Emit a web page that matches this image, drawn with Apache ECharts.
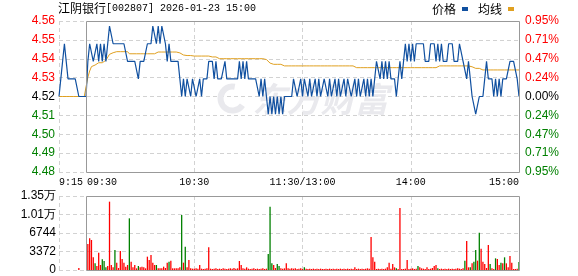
<!DOCTYPE html>
<html><head><meta charset="utf-8">
<script src="https://cdn.jsdelivr.net/npm/echarts@6/dist/echarts.min.js"></script>
<style>html,body{margin:0;padding:0;background:#fff}#c{width:578px;height:276px}</style>
</head><body><div id="c"></div>
<script>
const prevClose = 4.52;
// 9:15-9:29 call auction
const prePrice = [4.52,4.53,4.54,4.55,4.54,4.53,4.53,4.53,4.53,4.53,4.53,4.52,4.52,4.52,4.52];
const preAvg = [4.52,4.52,4.52,4.52,4.52,4.52,4.52,4.52,4.52,4.52,4.52,4.52,4.52,4.52,4.52];
const preVol = [0,0,0,0,0,0,0,0,0,0,0,364,0,0,0];
// 9:30-11:30, 13:01-15:00
const tradePrice = [
4.52,4.54,4.55,4.55,4.54,4.54,4.55,4.54,4.55,4.54,
4.55,4.54,4.55,4.56,4.56,4.55,4.55,4.55,4.55,4.55,
4.55,4.55,4.55,4.54,4.54,4.54,4.54,4.54,4.54,4.53,
4.54,4.54,4.54,4.54,4.55,4.55,4.55,4.56,4.56,4.55,
4.56,4.55,4.56,4.56,4.55,4.54,4.55,4.54,4.54,4.54,
4.54,4.54,4.53,4.52,4.53,4.52,4.53,4.53,4.52,4.53,
4.53,4.52,4.52,4.53,4.52,4.53,4.53,4.53,4.54,4.54,
4.54,4.53,4.54,4.53,4.53,4.53,4.53,4.54,4.53,4.53,
4.53,4.53,4.53,4.53,4.53,4.54,4.53,4.54,4.53,4.54,
4.53,4.53,4.53,4.53,4.53,4.53,4.52,4.53,4.52,4.53,
4.52,4.51,4.52,4.51,4.52,4.51,4.52,4.51,4.52,4.51,
4.52,4.52,4.52,4.52,4.52,4.53,4.53,4.52,4.52,4.53,
4.52,4.53,4.53,4.52,4.53,4.52,4.52,4.53,4.52,4.53,
4.52,4.52,4.53,4.53,4.52,4.53,4.52,4.52,4.53,4.52,
4.53,4.52,4.52,4.53,4.52,4.53,4.53,4.52,4.52,4.53,
4.52,4.53,4.52,4.52,4.53,4.52,4.53,4.52,4.53,4.52,
4.53,4.54,4.54,4.53,4.54,4.53,4.54,4.53,4.54,4.53,
4.53,4.53,4.52,4.53,4.54,4.53,4.54,4.55,4.54,4.55,
4.54,4.55,4.54,4.55,4.55,4.55,4.55,4.55,4.54,4.54,
4.54,4.55,4.55,4.55,4.54,4.55,4.54,4.55,4.54,4.54,
4.54,4.55,4.55,4.55,4.54,4.54,4.54,4.55,4.55,4.54,
4.54,4.53,4.54,4.53,4.52,4.52,4.51,4.51,4.52,4.52,
4.52,4.53,4.54,4.53,4.53,4.53,4.52,4.53,4.52,4.53,
4.52,4.53,4.53,4.53,4.53,4.54,4.54,4.54,4.54,4.53,
4.52];
const tradeAvg = [
4.520,4.531,4.5345,4.537,4.5379,4.5379,4.538,4.5392,4.5392,4.5392,
4.5395,4.5406,4.5406,4.544,4.5449,4.5449,4.5452,4.5455,4.5455,4.5455,
4.5455,4.5455,4.5455,4.5455,4.5443,4.5443,4.5443,4.5443,4.5443,4.5443,
4.5443,4.5443,4.5443,4.5443,4.5443,4.5443,4.5443,4.5443,4.5443,4.5453,
4.5453,4.5453,4.5453,4.5453,4.5453,4.5453,4.5453,4.5453,4.5453,4.5453,
4.5453,4.5453,4.5448,4.5442,4.5436,4.5433,4.5433,4.5433,4.5433,4.543,
4.543,4.543,4.543,4.543,4.543,4.543,4.543,4.543,4.543,4.543,
4.5425,4.5425,4.5425,4.5415,4.5415,4.5415,4.5415,4.5415,4.5415,4.5415,
4.5415,4.5415,4.5415,4.5415,4.5415,4.5415,4.5415,4.5415,4.5415,4.5415,
4.5415,4.5415,4.5415,4.5415,4.5415,4.5415,4.5415,4.5415,4.5415,4.5415,
4.541,4.540,4.539,4.5383,4.5383,4.5383,4.5383,4.5383,4.5383,4.5383,
4.5374,4.5374,4.5374,4.5374,4.5374,4.5374,4.5374,4.5374,4.5374,4.5374,
4.5374,4.5374,4.5374,4.5374,4.5374,4.5374,4.5374,4.5374,4.5374,4.5374,
4.5374,4.5374,4.5374,4.5374,4.5374,4.5374,4.5374,4.5374,4.5374,4.5374,
4.5374,4.5374,4.5374,4.5374,4.5374,4.5374,4.5374,4.5374,4.5374,4.5374,
4.5364,4.5364,4.5364,4.5364,4.5364,4.5364,4.5364,4.5364,4.5364,4.5364,
4.5364,4.5364,4.5364,4.5364,4.5364,4.5364,4.5364,4.5364,4.5364,4.5364,
4.5364,4.5364,4.5364,4.5364,4.5364,4.5364,4.5364,4.5364,4.5364,4.5364,
4.5364,4.5364,4.5364,4.5364,4.5364,4.5364,4.5364,4.5364,4.5364,4.5364,
4.5364,4.5364,4.5364,4.5364,4.5364,4.5364,4.5374,4.5374,4.5374,4.5374,
4.5374,4.5374,4.5374,4.5374,4.5374,4.5374,4.5374,4.5374,4.5374,4.5374,
4.5374,4.5374,4.5374,4.5374,4.5369,4.5363,4.536,4.536,4.536,4.5351,
4.5351,4.5351,4.5351,4.5351,4.5351,4.5351,4.5351,4.5351,4.5351,4.5351,
4.5351,4.5351,4.5351,4.5351,4.5351,4.5351,4.5351,4.5351,4.5351,4.5351,
4.5351];
const tradeVol = [
0,4739,5772,5468,2309,1215,729,3160,911,1944,
1640,486,729,12456,911,486,3646,1337,365,3463,
2005,1337,608,911,9418,1519,486,911,304,729,
486,608,486,304,2430,1823,2734,1337,911,911,
304,304,304,608,365,1337,1519,1700,304,304,
304,304,486,10025,1337,4253,486,1823,304,243,
243,304,243,911,243,182,243,304,4131,243,
182,243,304,182,243,182,304,243,182,243,
304,243,365,243,304,1640,911,304,243,486,
243,182,243,304,182,243,182,243,304,182,
243,2916,11544,1215,911,365,1094,729,304,243,
304,1215,304,243,304,243,304,182,243,304,
182,486,243,182,243,182,243,182,243,182,
243,182,182,243,182,243,182,243,182,243,
182,243,182,243,182,243,182,243,182,486,
182,243,182,243,182,243,304,243,6015,2309,
1519,182,243,182,243,182,243,486,1337,243,
1094,486,304,182,11301,182,182,243,1823,182,
243,304,182,243,729,486,304,243,182,486,
182,243,365,729,911,304,182,243,182,243,
182,243,182,243,182,243,304,243,182,304,
1700,5286,486,486,1215,1519,3646,1700,6805,3888,
1519,1094,365,4557,1094,304,182,2126,2005,911,
1337,1215,2309,1215,486,2552,1337,182,182,243,
1458];
const greenMinutes = [5,9,10,11,16,24,29,39,46,53,55,101,102,103,106,107,121,172,184,195,210,213,215,216,218,224,227,230,232,240];
const priceTicks = ['4.48','4.49','4.50','4.51','4.52','4.53','4.54','4.55','4.56'];
const pctTicks = ['0.95%','0.71%','0.47%','0.24%','0.00%','0.24%','0.47%','0.71%','0.95%'];
const volTicks = ['0','3372','6744','1.01万','1.35万'];
const timeLabels = {0:'9:15',15:'09:30',75:'10:30',135:'11:30/13:00',195:'14:00',255:'15:00'};
const vLines = [0,75,135,195];

const categories = [];
function hm(t){return Math.floor(t/60)+':'+String(t%60).padStart(2,'0');}
for (let t=9*60+15;t<9*60+30;t++) categories.push(hm(t));
for (let t=9*60+30;t<=11*60+30;t++) categories.push(hm(t));
for (let t=13*60+1;t<=15*60;t++) categories.push(hm(t));

const toBp = p => (p - prevClose) / prevClose * 10000;
const priceAll = prePrice.concat(tradePrice).map(toBp);
const avgAll = preAvg.concat(tradeAvg).map(toBp);
const greenSet = new Set(greenMinutes.map(m => m + prePrice.length));
const volAll = preVol.concat(tradeVol).map((v,i) => ({value:v, itemStyle:{color: greenSet.has(i) ? '#008000' : '#ff0000'}}));

const RED='#ff0000', GREEN='#008000', DARK='#000';
const tickIdx = v => Math.round((Number(v) + 95) / 23.75);
const tickColor = v => { const n = Number(v); return n > 0.01 ? RED : (n < -0.01 ? GREEN : DARK); };
const lab = {fontSize:12, fontFamily:'"Liberation Sans", Arial, sans-serif'};
const dash = {color:'#d2d2d2', type:[4,3], width:1};
const mono = '"Liberation Mono", "DejaVu Sans Mono", monospace';

const chart = echarts.init(document.getElementById('c'));
const option = {
  animation:false,
  backgroundColor:'#fff',
  title:{text:'{c|江阴银行}{m|[002807] 2026-01-23 15:00}', left:58, top:2, padding:0,
    textStyle:{fontSize:12, fontWeight:'normal', rich:{c:{fontSize:12, fontWeight:'normal', fontFamily:'"Noto Sans CJK SC"', color:'#000'}, m:{fontSize:10, fontWeight:'normal', fontFamily:mono, color:'#000'}}}},
  legend:{data:[{name:'价格',icon:'rect'},{name:'均线',icon:'rect'}], right:64, top:3, padding:0, align:'right',
    itemWidth:6, itemHeight:4, itemGap:10, selectedMode:false,
    textStyle:{fontSize:12, color:'#000', fontFamily:'"Noto Sans CJK SC"', padding:[0,1,0,0]}},
  grid:[
    {left:59, right:59, top:21, height:151, outerBoundsMode:'none'},
    {left:59, right:59, top:196, height:74, outerBoundsMode:'none'}
  ],
  xAxis:[
    {type:'category', gridIndex:0, data:categories, boundaryGap:false,
     axisLine:{show:false}, axisTick:{show:false},
     splitLine:{show:true, interval:(i)=>vLines.includes(i), lineStyle:dash},
     axisLabel:{interval:(i)=>(i in timeLabels), margin:5, fontSize:10, fontFamily:mono, color:'#000',
       formatter:(v,i)=>{
         const t = timeLabels[i];
         if (i===0) return '{l|'+t+'}';
         if (i===15) return '{o|'+t+'}';
         if (i===255) return '{r|'+t+'}';
         return t;
       },
       rich:{l:{fontSize:10,fontFamily:mono,color:'#000',padding:[0,0,0,24]},
             o:{fontSize:10,fontFamily:mono,color:'#000',padding:[0,0,0,32]},
             r:{fontSize:10,fontFamily:mono,color:'#000',padding:[0,30,0,0]}}}},
    {type:'category', gridIndex:1, data:categories, boundaryGap:false,
     axisLine:{show:false}, axisTick:{show:false}, axisLabel:{show:false},
     splitLine:{show:true, interval:(i)=>vLines.includes(i), lineStyle:dash}}
  ],
  yAxis:[
    {type:'value', gridIndex:0, position:'left', min:-95, max:95, interval:23.75,
     axisLine:{show:false}, axisTick:{show:false}, splitLine:{show:true, lineStyle:dash},
     axisLabel:Object.assign({margin:4, formatter:v=>priceTicks[tickIdx(v)], color:tickColor}, lab)},
    {type:'value', gridIndex:0, position:'right', min:-95, max:95, interval:23.75,
     axisLine:{show:false}, axisTick:{show:false}, splitLine:{show:false},
     axisLabel:Object.assign({margin:6, formatter:v=>pctTicks[tickIdx(v)], color:tickColor}, lab)},
    {type:'value', gridIndex:1, min:0, max:13488, interval:3372,
     axisLine:{show:false}, axisTick:{show:false}, splitLine:{show:true, lineStyle:dash},
     axisLabel:Object.assign({margin:3, formatter:v=>volTicks[Math.round(Number(v)/3372)], color:'#000'}, lab)}
  ],
  series:[
    {name:'均线', type:'line', xAxisIndex:0, yAxisIndex:0, data:avgAll, showSymbol:false, symbol:'none',
     lineStyle:{color:'#e0a020', width:1}, itemStyle:{color:'#e0a020'}, z:3},
    {name:'价格', type:'line', xAxisIndex:0, yAxisIndex:0, data:priceAll, showSymbol:false, symbol:'none',
     lineStyle:{color:'#1050a0', width:1.2}, itemStyle:{color:'#1050a0'}, z:4},
    {name:'成交量', type:'bar', xAxisIndex:1, yAxisIndex:2, data:volAll, barWidth:1.3, z:3}
  ]
};
chart.setOption(option);

const a = chart.convertToPixel({gridIndex:0}, [15, 95]);
const b = chart.convertToPixel({gridIndex:0}, [255, -95]);
const c = chart.convertToPixel({gridIndex:1}, [15, 13488]);
const d = chart.convertToPixel({gridIndex:1}, [255, 0]);
function box(p, q){
  const x = Math.round(p[0]) + 0.5, y = Math.round(p[1]) + 0.5;
  return {type:'rect', z:10, silent:true,
    shape:{x:x, y:y, width:Math.round(q[0]) - Math.round(p[0]), height:Math.round(q[1]) - Math.round(p[1])},
    style:{fill:'none', stroke:'#999', lineWidth:1}};
}
const cx = (a[0] + b[0]) / 2, cy = (a[1] + b[1]) / 2;
chart.setOption({graphic:[
  {type:'arc', z:0, silent:true, shape:{cx:cx-70, cy:cy+2, r:12, startAngle:0.6, endAngle:4.9},
   style:{fill:'none', stroke:'#e9e9ed', lineWidth:6}},
  {type:'text', z:0, silent:true, x:cx-50, y:cy-14,
   style:{text:'东方财富', fill:'#e9e9ed', font:'italic bold 34px "Noto Sans CJK SC"'}},
  box(a, b), box(c, d)
]});
</script>
</body></html>
